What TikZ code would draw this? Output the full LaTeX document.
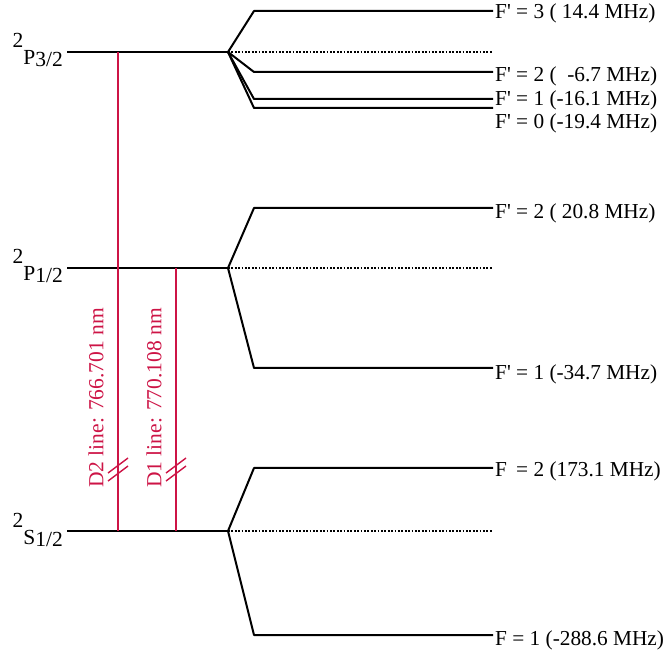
\documentclass[tikz,border=0pt]{standalone}
\usepackage{fontspec}
\setmainfont{Liberation Serif}
\definecolor{lineRed}{RGB}{205,20,70}
\begin{document}
\begin{tikzpicture}[x=1pt,y=-1pt,
  level/.style={line width=2pt,black},
  fan/.style={line width=2pt,black,line join=round},
  dotline/.style={line width=2pt,dash pattern=on 1.8pt off 1.6pt,black},
  trans/.style={line width=1.5pt,lineRed},
  brk/.style={line width=1.4pt,lineRed},
  flabel/.style={anchor=base west,inner sep=0pt,font=\fontsize{21.3}{26}\selectfont},
  slabel/.style={anchor=base east,inner sep=0pt,font=\fontsize{21.5}{26}\selectfont},
  tlabel/.style={rotate=90,inner sep=0pt,text=lineRed,font=\fontsize{21.5}{26}\selectfont}]
\useasboundingbox (0,0) rectangle (665,655);
% level labels
\node[slabel] (lP3) at (63,65) {\raisebox{17pt}{2}P\raisebox{-2pt}{3/2}};
\node[slabel] (lP1) at (63,281) {\raisebox{17pt}{2}P\raisebox{-2pt}{1/2}};
\node[slabel] (lS1) at (63,544) {\raisebox{17pt}{2}S\raisebox{-2pt}{1/2}};
% main levels
\coordinate (P3L) at (67,52);  \coordinate (P3R) at (228,52);
\coordinate (P1L) at (67,268); \coordinate (P1R) at (228,268);
\coordinate (S1L) at (67,531); \coordinate (S1R) at (228,531);
\draw[level] (P3L) -- (P3R);
\draw[level] (P1L) -- (P1R);
\draw[level] (S1L) -- (S1R);
% fan coordinates
\coordinate (a3) at (254,11);  \coordinate (a3e) at (493,11);
\coordinate (a2) at (254,72);  \coordinate (a2e) at (493,72);
\coordinate (a1) at (254,99);  \coordinate (a1e) at (493,99);
\coordinate (a0) at (254,108); \coordinate (a0e) at (493,108);
\coordinate (aD) at (493,52);
\coordinate (b2) at (254,208); \coordinate (b2e) at (493,208);
\coordinate (b1) at (254,368); \coordinate (b1e) at (493,368);
\coordinate (bD) at (493,268);
\coordinate (c2) at (254,468); \coordinate (c2e) at (493,468);
\coordinate (c1) at (254,635); \coordinate (c1e) at (493,635);
\coordinate (cD) at (493,531);
% fans
\draw[fan] (P3R) -- (a3) -- (a3e);
\draw[fan] (P3R) -- (a2) -- (a2e);
\draw[fan] (P3R) -- (a1) -- (a1e);
\draw[fan] (P3R) -- (a0) -- (a0e);
\draw[dotline] (P3R) -- (aD);
\draw[fan] (P1R) -- (b2) -- (b2e);
\draw[fan] (P1R) -- (b1) -- (b1e);
\draw[dotline] (P1R) -- (bD);
\draw[fan] (S1R) -- (c2) -- (c2e);
\draw[fan] (S1R) -- (c1) -- (c1e);
\draw[dotline] (S1R) -- (cD);
% hyperfine labels
\node[flabel] (t3) at (495,19) {F\textquotesingle{} = 3 ( 14.4 MHz)};
\node[flabel] (t2) at (495,82) {F\textquotesingle{} = 2 (\ \ -6.7 MHz)};
\node[flabel] (t1) at (495,106) {F\textquotesingle{} = 1 (-16.1 MHz)};
\node[flabel] (t0) at (495,129) {F\textquotesingle{} = 0 (-19.4 MHz)};
\node[flabel] (u2) at (495,219) {F\textquotesingle{} = 2 ( 20.8 MHz)};
\node[flabel] (u1) at (495,380) {F\textquotesingle{} = 1 (-34.7 MHz)};
\node[flabel] (v2) at (495,477) {F\phantom{\textquotesingle} = 2 (173.1 MHz)};
\node[flabel] (v1) at (495,645) {F = 1 (-288.6 MHz)};
% transitions
\coordinate (D2t) at (118,52);  \coordinate (D2b) at (118,531);
\coordinate (D1t) at (176,268); \coordinate (D1b) at (176,531);
\draw[trans] (D2t) -- (D2b);
\draw[trans] (D1t) -- (D1b);
\node[tlabel] (D2lab) at (96,398) {D2 line: 766.701 nm};
\node[tlabel] (D1lab) at (154,398) {D1 line: 770.108 nm};
% break marks
\foreach \xx in {118,176}{
  \draw[brk] (\xx-10,473) -- (\xx+10,458);
  \draw[brk] (\xx-10,481) -- (\xx+10,466);
}
\end{tikzpicture}
\end{document}
